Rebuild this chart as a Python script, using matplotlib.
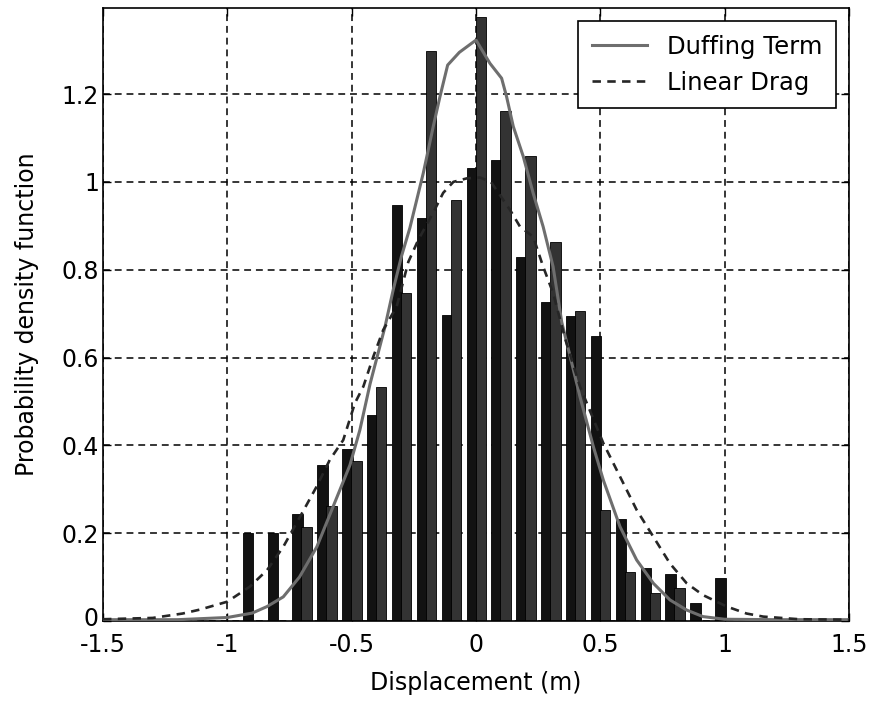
import matplotlib
matplotlib.use("Agg")
import matplotlib.pyplot as plt
import matplotlib.transforms as mtransforms
import numpy as np

# ---- data ----
bin_centers = [-0.9, -0.8, -0.7, -0.6, -0.5, -0.4, -0.3, -0.2, -0.1, 0.0,
               0.1, 0.2, 0.3, 0.4, 0.5, 0.6, 0.7, 0.8, 0.9, 1.0]
hist_a = [0.200, 0.200, 0.244, 0.355, 0.391, 0.470, 0.948, 0.917, 0.697, 1.031,
          1.050, 0.828, 0.726, 0.695, 0.650, 0.232, 0.121, 0.106, 0.040, 0.097]
hist_b = [0.000, 0.000, 0.214, 0.263, 0.365, 0.532, 0.746, 1.298, 0.959, 1.375,
          1.162, 1.060, 0.863, 0.706, 0.253, 0.111, 0.063, 0.076, 0.000, 0.000]

duffing_x = [-1.5, -1.2, -1.0, -0.9, -0.84, -0.775, -0.71, -0.64, -0.575, -0.507,
             -0.467, -0.426, -0.366, -0.333, -0.30, -0.266, -0.225, -0.212, -0.172,
             -0.145, -0.114, -0.067, 0.0, 0.056, 0.103, 0.123, 0.15, 0.19, 0.23,
             0.27, 0.31, 0.345, 0.418, 0.472, 0.512, 0.579, 0.646, 0.713, 0.78,
             0.847, 0.913, 1.0, 1.2, 1.5]
duffing_y = [0.003, 0.003, 0.008, 0.018, 0.033, 0.055, 0.100, 0.169, 0.260, 0.355,
             0.435, 0.540, 0.670, 0.754, 0.830, 0.895, 0.990, 1.020, 1.126,
             1.194, 1.266, 1.295, 1.323, 1.270, 1.236, 1.194, 1.126, 1.058, 0.974,
             0.898, 0.807, 0.680, 0.511, 0.397, 0.321, 0.215, 0.139, 0.086, 0.048,
             0.025, 0.010, 0.004, 0.003, 0.003]

linear_x = [-1.5, -1.3, -1.18, -1.11, -1.0, -0.91, -0.84, -0.775, -0.708, -0.641,
            -0.588, -0.534, -0.487, -0.453, -0.413, -0.373, -0.319, -0.272, -0.232,
            -0.172, -0.132, -0.091, -0.037, 0.016, 0.06, 0.137, 0.177, 0.23, 0.27,
            0.31, 0.36, 0.418, 0.512, 0.579, 0.646, 0.713, 0.78, 0.847, 0.913,
            1.008, 1.088, 1.155, 1.3, 1.5]
linear_y = [0.004, 0.007, 0.017, 0.026, 0.044, 0.078, 0.116, 0.169, 0.237, 0.306,
            0.367, 0.412, 0.496, 0.534, 0.602, 0.663, 0.716, 0.818, 0.868,
            0.930, 0.975, 1.000, 1.008, 1.010, 1.000, 0.936, 0.898, 0.875, 0.807,
            0.747, 0.640, 0.534, 0.405, 0.329, 0.253, 0.192, 0.131, 0.086, 0.059,
            0.033, 0.017, 0.010, 0.004, 0.003]

x_ticks = [-1.5, -1, -0.5, 0, 0.5, 1, 1.5]
x_tick_labels = ["-1.5", "-1", "-0.5", "0", "0.5", "1", "1.5"]
y_ticks = [0, 0.2, 0.4, 0.6, 0.8, 1.0, 1.2]
y_tick_labels = ["0", "0.2", "0.4", "0.6", "0.8", "1", "1.2"]

# ---- figure ----
plt.rcParams['font.family'] = ['DejaVu Sans']
fig = plt.figure(figsize=(8.71, 7.03), dpi=100)
ax = fig.add_axes([103/871, 1 - 621/703, (849-103)/871, (621-8)/703])

bw = 0.042
xc = np.array(bin_centers)
ax.bar(xc - 0.017, hist_a, width=bw, color='#121212', edgecolor='#000000',
       linewidth=0.6, zorder=2)
ax.bar(xc + 0.019, hist_b, width=bw, color='#333333', edgecolor='#000000',
       linewidth=0.6, zorder=2.1)

ax.plot(duffing_x, duffing_y, color='#6e6e6e', linewidth=2.2, zorder=3,
        label='Duffing Term')
ax.plot(linear_x, linear_y, color='#262626', linewidth=1.9, zorder=3.1,
        dashes=(3.2, 2.4), label='Linear Drag')

ax.set_xlim(-1.5, 1.5)
ax.set_ylim(0, 1.396)
ax.set_xticks(x_ticks)
ax.set_xticklabels(x_tick_labels)
ax.set_yticks(y_ticks)
ax.set_yticklabels(y_tick_labels)

ax.set_axisbelow(True)
ax.grid(True, color='black', linewidth=1.1, linestyle=(0, (4.5, 3.2)))
ax.tick_params(direction='in', length=5.5, width=1.0, top=True, right=True,
               labelsize=17, colors='black')
ax.tick_params(axis='x', pad=9)
ax.tick_params(axis='y', pad=3)
for s in ax.spines.values():
    s.set_linewidth(1.2)
    s.set_color('black')

# nudge the y=0 label up a little so it does not collide with "-1.5"
lbl0 = ax.get_yticklabels()[0]
lbl0.set_transform(lbl0.get_transform() +
                   mtransforms.ScaledTranslation(0, 4/100, fig.dpi_scale_trans))

ax.set_xlabel('Displacement (m)', fontsize=17, labelpad=10)
ax.set_ylabel('Probability density function', fontsize=17, labelpad=16)

leg = ax.legend(loc='upper right', fontsize=17.5, frameon=True, fancybox=False,
                framealpha=1, edgecolor='black', borderpad=0.55,
                handlelength=2.3, handletextpad=0.8, labelspacing=0.5,
                borderaxespad=0.55)
leg.get_frame().set_linewidth(1.2)

fig.savefig('out.png', dpi=100)
